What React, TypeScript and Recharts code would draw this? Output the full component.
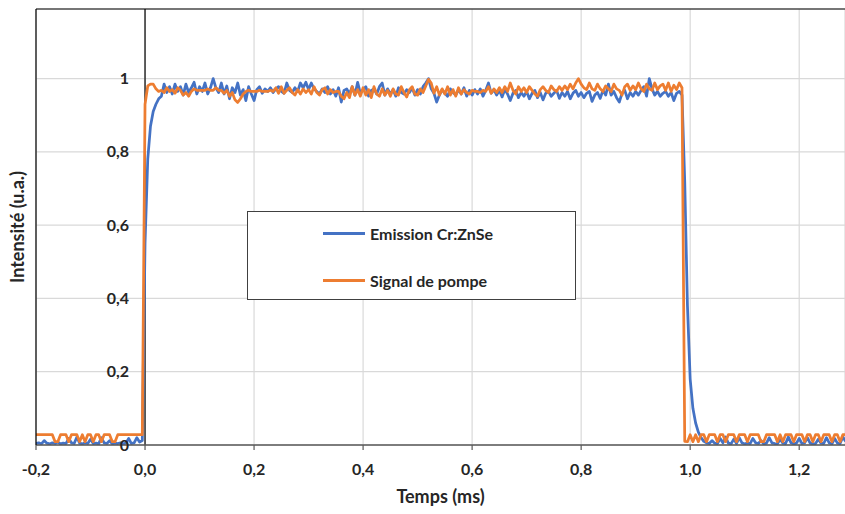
import { CartesianGrid, Legend, Line, LineChart, ReferenceLine, XAxis, YAxis } from "recharts";

// Emission Cr:ZnSe (blue), one row = 10 samples = 0.05 ms, first row starts at -0.2 ms
const EMISSION = [
	0.004, 0.006, 0.003, 0.012, 0.005, 0.003, 0.006, 0.004, 0.008, 0.003, // -0.20
	0.005, 0.004, 0.018, 0.006, 0.004, 0.022, 0.005, 0.003, 0.006, 0.004, // -0.15
	0.016, 0.004, 0.005, 0.003, 0.02, 0.006, 0.004, 0.012, 0.003, 0.005, // -0.10
	0.004, 0.006, 0.003, 0.005, 0.018, 0.004, 0.006, 0.02, 0.008, 0.012, // -0.05
	0.55, 0.78, 0.87, 0.91, 0.93, 0.945, 0.952, 0.985, 0.962, 0.978, // 0.00
	0.958, 0.985, 0.965, 0.978, 0.955, 0.985, 0.962, 0.975, 0.99, 0.958, // 0.05
	0.978, 0.965, 0.988, 0.958, 0.975, 1.0, 0.975, 0.962, 0.988, 0.958, // 0.10
	0.98, 0.945, 0.975, 0.962, 0.988, 0.955, 0.97, 0.94, 0.978, 0.958, // 0.15
	0.94, 0.97, 0.978, 0.96, 0.972, 0.965, 0.975, 0.962, 0.972, 0.978, // 0.20
	0.965, 0.96, 0.988, 0.968, 0.962, 0.975, 0.965, 0.988, 0.975, 0.99, // 0.25
	0.97, 0.988, 0.972, 0.965, 0.958, 0.972, 0.962, 0.978, 0.958, 0.97, // 0.30
	0.952, 0.975, 0.936, 0.968, 0.972, 0.958, 0.978, 0.955, 0.99, 0.96, // 0.35
	0.97, 0.978, 0.952, 0.968, 0.972, 0.958, 0.978, 0.988, 0.955, 0.972, // 0.40
	0.958, 0.97, 0.952, 0.975, 0.962, 0.958, 0.97, 0.962, 0.975, 0.955, // 0.45
	0.97, 0.958, 0.978, 0.988, 1.0, 0.972, 0.96, 0.936, 0.955, 0.97, // 0.50
	0.96, 0.952, 0.972, 0.962, 0.955, 0.97, 0.958, 0.975, 0.952, 0.968, // 0.55
	0.955, 0.97, 0.958, 0.972, 0.952, 0.968, 0.988, 0.96, 0.97, 0.955, // 0.60
	0.968, 0.95, 0.97, 0.958, 0.94, 0.96, 0.968, 0.948, 0.962, 0.952, // 0.65
	0.965, 0.945, 0.96, 0.968, 0.948, 0.962, 0.942, 0.96, 0.965, 0.952, // 0.70
	0.96, 0.968, 0.946, 0.962, 0.952, 0.965, 0.945, 0.96, 0.968, 0.952, // 0.75
	0.962, 0.948, 0.96, 0.965, 0.938, 0.955, 0.962, 0.946, 0.968, 0.955, // 0.80
	0.985, 0.955, 0.965, 0.948, 0.936, 0.96, 0.968, 0.945, 0.962, 0.952, // 0.85
	0.965, 0.955, 0.968, 0.978, 0.952, 1.0, 0.972, 0.955, 0.965, 0.952, // 0.90
	0.96, 0.965, 0.952, 0.962, 0.94, 0.96, 0.965, 0.955, 0.72, 0.38, // 0.95
	0.18, 0.1, 0.06, 0.035, 0.02, 0.01, 0.006, 0.004, 0.012, 0.005, // 1.00
	0.004, 0.018, 0.006, 0.022, 0.005, 0.003, 0.016, 0.004, 0.02, 0.006, // 1.05
	0.003, 0.005, 0.004, 0.018, 0.006, 0.004, 0.012, 0.003, 0.005, 0.02, // 1.10
	0.006, 0.004, 0.003, 0.016, 0.005, 0.004, 0.022, 0.006, 0.003, 0.005, // 1.15
	0.018, 0.004, 0.006, 0.02, 0.005, 0.003, 0.004, 0.016, 0.005, 0.004, // 1.20
	0.02, 0.006, 0.003, 0.018, 0.005, 0.004, 0.022, 0.01, // 1.25
];

// Signal de pompe (orange), same sampling
const POMPE = [
	0.028, 0.028, 0.028, 0.028, 0.028, 0.028, 0.028, 0.009, 0.009, 0.028, // -0.20
	0.028, 0.028, 0.009, 0.028, 0.028, 0.028, 0.009, 0.028, 0.009, 0.028, // -0.15
	0.028, 0.009, 0.028, 0.028, 0.009, 0.028, 0.028, 0.028, 0.009, 0.009, // -0.10
	0.028, 0.028, 0.028, 0.028, 0.028, 0.028, 0.028, 0.028, 0.028, 0.028, // -0.05
	0.93, 0.98, 0.985, 0.985, 0.972, 0.965, 0.968, 0.962, 0.975, 0.965, // 0.00
	0.97, 0.96, 0.975, 0.968, 0.955, 0.962, 0.952, 0.965, 0.972, 0.968, // 0.05
	0.968, 0.968, 0.968, 0.972, 0.968, 0.968, 0.975, 0.968, 0.968, 0.96, // 0.10
	0.968, 0.952, 0.962, 0.942, 0.935, 0.945, 0.958, 0.965, 0.968, 0.965, // 0.15
	0.965, 0.965, 0.968, 0.965, 0.965, 0.965, 0.968, 0.965, 0.975, 0.96, // 0.20
	0.978, 0.96, 0.968, 0.975, 0.962, 0.955, 0.97, 0.958, 0.972, 0.962, // 0.25
	0.97, 0.958, 0.978, 0.962, 0.955, 0.97, 0.975, 0.958, 0.97, 0.962, // 0.30
	0.965, 0.965, 0.952, 0.945, 0.962, 0.948, 0.978, 0.955, 0.97, 0.952, // 0.35
	0.975, 0.955, 0.97, 0.948, 0.978, 0.958, 0.952, 0.972, 0.955, 0.968, // 0.40
	0.952, 0.972, 0.958, 0.955, 0.978, 0.962, 0.95, 0.97, 0.978, 0.958, // 0.45
	0.955, 0.972, 0.962, 0.98, 0.998, 0.988, 0.96, 0.978, 0.955, 0.972, // 0.50
	0.958, 0.978, 0.955, 0.97, 0.952, 0.975, 0.958, 0.97, 0.962, 0.958, // 0.55
	0.968, 0.965, 0.965, 0.962, 0.968, 0.965, 0.978, 0.96, 0.972, 0.962, // 0.60
	0.975, 0.962, 0.978, 0.965, 0.988, 0.968, 0.958, 0.978, 0.965, 0.975, // 0.65
	0.962, 0.978, 0.968, 0.958, 0.952, 0.97, 0.978, 0.968, 0.962, 0.98, // 0.70
	0.97, 0.965, 0.978, 0.968, 0.98, 0.97, 0.985, 0.972, 0.988, 1.0, // 0.75
	0.985, 0.975, 0.97, 0.988, 0.972, 0.968, 0.985, 0.972, 0.965, 0.98, // 0.80
	0.972, 0.965, 0.985, 0.972, 0.968, 0.955, 0.978, 0.985, 0.968, 0.98, // 0.85
	0.97, 0.988, 0.972, 0.965, 0.985, 0.972, 0.968, 0.988, 0.97, 0.98, // 0.90
	0.985, 0.968, 0.988, 0.965, 0.982, 0.97, 0.988, 0.975, 0.01, 0.009, // 0.95
	0.028, 0.009, 0.028, 0.009, 0.028, 0.028, 0.009, 0.028, 0.028, 0.028, // 1.00
	0.009, 0.028, 0.028, 0.009, 0.028, 0.028, 0.028, 0.009, 0.028, 0.028, // 1.05
	0.028, 0.009, 0.028, 0.028, 0.028, 0.028, 0.009, 0.009, 0.028, 0.028, // 1.10
	0.028, 0.028, 0.009, 0.028, 0.009, 0.028, 0.028, 0.028, 0.009, 0.028, // 1.15
	0.028, 0.028, 0.009, 0.028, 0.028, 0.009, 0.028, 0.028, 0.009, 0.028, // 1.20
	0.028, 0.028, 0.009, 0.028, 0.028, 0.009, 0.028, 0.028, // 1.25
];

const T_START = -0.2;
const T_STEP = 0.005;

const X_TICKS = [-0.2, 0, 0.2, 0.4, 0.6, 0.8, 1, 1.2];
const Y_TICKS = [0, 0.2, 0.4, 0.6, 0.8, 1];
const X_DOMAIN: [number, number] = [-0.2, 1.284];
const Y_DOMAIN: [number, number] = [0, 1.19];

const SERIES = [
	{ key: "emission", name: "Emission Cr:ZnSe", color: "#4472C4" },
	{ key: "pompe", name: "Signal de pompe", color: "#ED7D31" },
];

const WIDTH = 845;
const HEIGHT = 514;
const Y_AXIS_WIDTH = 36;
const FONT = "Lato, 'Open Sans', sans-serif";
const TEXT = "#262626";

// the value axis crosses at t = 0, so its labels sit next to that line
const X_ZERO = Y_AXIS_WIDTH + ((0 - X_DOMAIN[0]) / (X_DOMAIN[1] - X_DOMAIN[0])) * (WIDTH - Y_AXIS_WIDTH);

const data = EMISSION.map((v, i) => ({
	t: Math.round((T_START + i * T_STEP) * 1000) / 1000,
	emission: v,
	pompe: POMPE[i],
}));

const fmt = (v: number, digits?: number) =>
	(digits != null ? v.toFixed(digits) : String(v)).replace(".", ",");

function YTick(props: any) {
	const { y, payload } = props;
	return (
		<text
			x={X_ZERO - 16}
			y={y}
			dy="0.35em"
			textAnchor="end"
			fill={TEXT}
			fontFamily={FONT}
			fontWeight={700}
			fontSize={16}
		>
			{fmt(payload.value)}
		</text>
	);
}

function LegendBox() {
	return (
		<div
			style={{
				width: 329,
				height: 89,
				boxSizing: "border-box",
				border: "1px solid #404040",
				background: "#fff",
				position: "relative",
				fontFamily: FONT,
				fontWeight: 700,
				fontSize: 16,
				color: TEXT,
			}}
		>
			{SERIES.map((s, i) => (
				<div
					key={s.key}
					style={{
						position: "absolute",
						left: 75,
						top: i === 0 ? 11 : 58,
						height: 20,
						display: "flex",
						alignItems: "center",
						whiteSpace: "nowrap",
					}}
				>
					<span style={{ display: "inline-block", width: 42, height: 3, background: s.color, marginRight: 5 }} />
					<span>{s.name}</span>
				</div>
			))}
		</div>
	);
}

export default function App() {
	return (
		<div style={{ position: "absolute", left: 0, top: 0, width: WIDTH, height: HEIGHT, background: "#fff" }}>
			<LineChart width={WIDTH} height={HEIGHT} data={data} margin={{ top: 9, right: 0, bottom: 0, left: 0 }}>
				<CartesianGrid stroke="#d9d9d9" strokeWidth={1.2} />
				<XAxis
					dataKey="t"
					type="number"
					domain={X_DOMAIN}
					allowDataOverflow
					ticks={X_TICKS}
					interval={0}
					height={69}
					tickFormatter={(v: number) => fmt(v, 1)}
					axisLine={{ stroke: "#595959", strokeWidth: 1.5 }}
					tickLine={{ stroke: "#595959", strokeWidth: 1.2 }}
					tickSize={5}
					tickMargin={14}
					tick={{ fill: TEXT, fontFamily: FONT, fontWeight: 700, fontSize: 16 }}
					label={{
						value: "Temps (ms)",
						position: "insideBottom",
						offset: 11,
						fill: TEXT,
						fontFamily: FONT,
						fontWeight: 700,
						fontSize: 18,
					}}
				/>
				<YAxis
					type="number"
					domain={Y_DOMAIN}
					allowDataOverflow
					ticks={Y_TICKS}
					interval={0}
					width={Y_AXIS_WIDTH}
					axisLine={{ stroke: "#000", strokeWidth: 1.2 }}
					tickLine={false}
					tick={YTick}
					label={{
						value: "Intensité (u.a.)",
						angle: -90,
						position: "center",
						fill: TEXT,
						fontFamily: FONT,
						fontWeight: 700,
						fontSize: 18,
					}}
				/>
				<ReferenceLine y={Y_DOMAIN[1]} stroke="#000" strokeWidth={1.2} />
				<ReferenceLine x={0} stroke="#000" strokeWidth={1.2} />
				<Legend
					layout="vertical"
					align="center"
					verticalAlign="middle"
					content={LegendBox}
					wrapperStyle={{ left: 247, top: 211, width: 329, height: 89 }}
				/>
				{SERIES.map((s) => (
					<Line
						key={s.key}
						type="linear"
						dataKey={s.key}
						name={s.name}
						stroke={s.color}
						strokeWidth={2.75}
						strokeLinejoin="round"
						dot={false}
						activeDot={false}
						isAnimationActive={false}
					/>
				))}
			</LineChart>
		</div>
	);
}
